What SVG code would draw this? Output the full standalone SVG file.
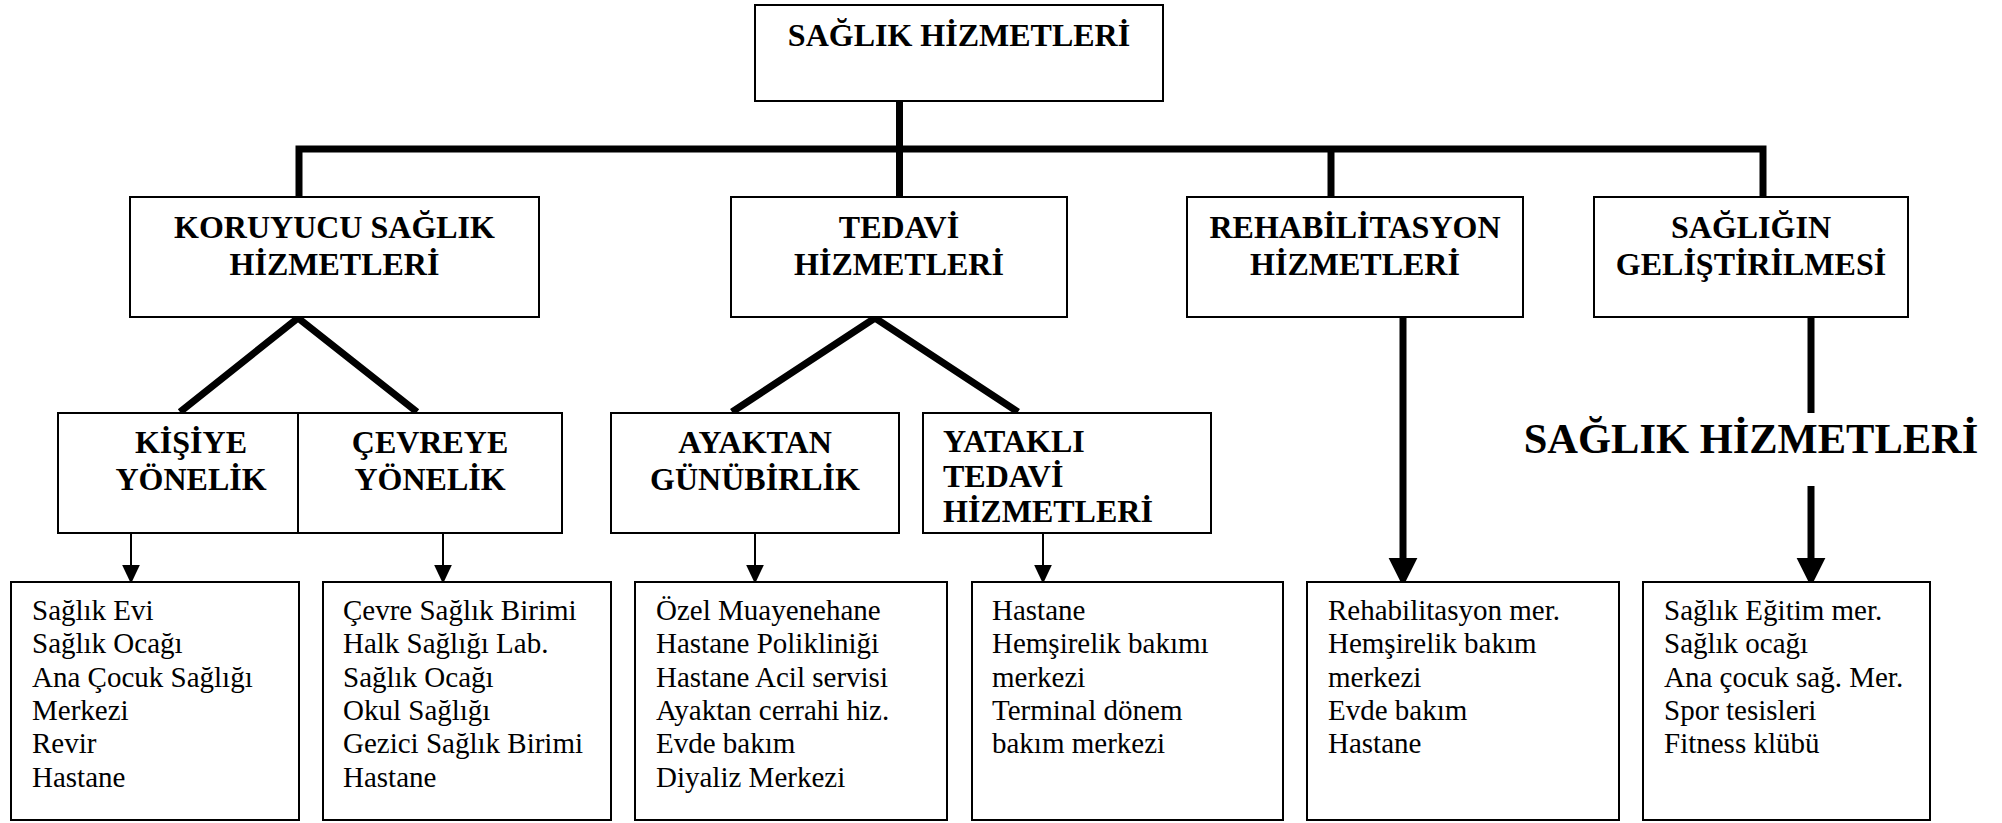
<svg xmlns="http://www.w3.org/2000/svg" width="2002" height="823" viewBox="0 0 2002 823" font-family="'Liberation Serif', 'Times New Roman', Times, 'Noto Serif', 'DejaVu Serif', serif">
  <style>
    .box { fill: #ffffff; stroke: #000000; stroke-width: 2; }
    .head { font-weight: bold; font-size: 32px; fill: #000000; }
    .big { font-weight: bold; font-size: 42.5px; fill: #000000; }
    .list { font-size: 29px; fill: #000000; }
    .thick { fill: none; stroke: #000000; stroke-width: 7; stroke-linejoin: miter; }
    .thin { fill: none; stroke: #000000; stroke-width: 2; }
  </style>
  <defs>
    <marker id="arrowThick" markerUnits="userSpaceOnUse" markerWidth="30" markerHeight="30" refX="0" refY="0" viewBox="0 -12 24 24" orient="auto" overflow="visible">
      <path d="M0,-11.5 L23,0 L0,11.5 Z" fill="#000000"/>
    </marker>
    <marker id="arrowThin" markerUnits="userSpaceOnUse" markerWidth="20" markerHeight="20" refX="0" refY="0" viewBox="0 -8 17 16" orient="auto" overflow="visible">
      <path d="M0,-7.5 L16,0 L0,7.5 Z" fill="#000000"/>
    </marker>
  </defs>

  <!-- connectors -->
  <g id="connectors">
    <!-- root trunk and distribution bar -->
    <path class="thick" d="M899.5,101 V197"/>
    <path class="thick" d="M299,197 V149 H1763 V197"/>
    <path class="thick" d="M1331,149 V197"/>
    <!-- preventive split -->
    <path class="thick" d="M180,412 L298,318 L417,412"/>
    <!-- treatment split -->
    <path class="thick" d="M732,412 L875,318 L1018,412"/>
    <!-- thin arrows to lists -->
    <path class="thin" d="M131,533 V565" marker-end="url(#arrowThin)"/>
    <path class="thin" d="M443,533 V565" marker-end="url(#arrowThin)"/>
    <path class="thin" d="M755,533 V565" marker-end="url(#arrowThin)"/>
    <path class="thin" d="M1043,533 V565" marker-end="url(#arrowThin)"/>
    <!-- rehabilitation arrow -->
    <path class="thick" d="M1403,317 V558" marker-end="url(#arrowThick)"/>
    <!-- health promotion arrow, broken by label -->
    <path class="thick" d="M1811,317 V413"/>
    <path class="thick" d="M1811,486 V558" marker-end="url(#arrowThick)"/>
  </g>

  <!-- root -->
  <g id="root">
    <rect class="box" x="755" y="5" width="408" height="96"/>
    <text class="head" x="959" y="46" text-anchor="middle">SAĞLIK HİZMETLERİ</text>
  </g>

  <!-- second level -->
  <g id="koruyucu">
    <rect class="box" x="130" y="197" width="409" height="120"/>
    <text class="head" x="334.5" y="238" text-anchor="middle">KORUYUCU SAĞLIK</text>
    <text class="head" x="334.5" y="275" text-anchor="middle">HİZMETLERİ</text>
  </g>
  <g id="tedavi">
    <rect class="box" x="731" y="197" width="336" height="120"/>
    <text class="head" x="899" y="238" text-anchor="middle">TEDAVİ</text>
    <text class="head" x="899" y="275" text-anchor="middle">HİZMETLERİ</text>
  </g>
  <g id="rehabilitasyon">
    <rect class="box" x="1187" y="197" width="336" height="120"/>
    <text class="head" x="1355" y="238" text-anchor="middle">REHABİLİTASYON</text>
    <text class="head" x="1355" y="275" text-anchor="middle">HİZMETLERİ</text>
  </g>
  <g id="gelistirme">
    <rect class="box" x="1594" y="197" width="314" height="120"/>
    <text class="head" x="1751" y="238" text-anchor="middle">SAĞLIĞIN</text>
    <text class="head" x="1751" y="275" text-anchor="middle">GELİŞTİRİLMESİ</text>
  </g>

  <!-- third level -->
  <g id="kisiye">
    <rect class="box" x="58" y="413" width="265" height="120"/>
    <text class="head" x="191" y="453" text-anchor="middle">KİŞİYE</text>
    <text class="head" x="191" y="490" text-anchor="middle">YÖNELİK</text>
  </g>
  <g id="cevreye">
    <rect class="box" x="298" y="413" width="264" height="120"/>
    <text class="head" x="430" y="453" text-anchor="middle">ÇEVREYE</text>
    <text class="head" x="430" y="490" text-anchor="middle">YÖNELİK</text>
  </g>
  <g id="ayaktan">
    <rect class="box" x="611" y="413" width="288" height="120"/>
    <text class="head" x="755" y="453" text-anchor="middle">AYAKTAN</text>
    <text class="head" x="755" y="490" text-anchor="middle">GÜNÜBİRLİK</text>
  </g>
  <g id="yatakli">
    <rect class="box" x="923" y="413" width="288" height="120"/>
    <text class="head" x="943" y="452">YATAKLI</text>
    <text class="head" x="943" y="487">TEDAVİ</text>
    <text class="head" x="943" y="522">HİZMETLERİ</text>
  </g>

  <!-- free label -->
  <g id="label">
    <text class="big" x="1751" y="453" text-anchor="middle">SAĞLIK HİZMETLERİ</text>
  </g>

  <!-- lists -->
  <g id="list-kisiye">
    <rect class="box" x="11" y="582" width="288" height="238"/>
    <text class="list" x="32" y="620">
      <tspan x="32" dy="0">Sağlık Evi</tspan>
      <tspan x="32" dy="33.3">Sağlık Ocağı</tspan>
      <tspan x="32" dy="33.3">Ana Çocuk Sağlığı</tspan>
      <tspan x="32" dy="33.3">Merkezi</tspan>
      <tspan x="32" dy="33.3">Revir</tspan>
      <tspan x="32" dy="33.3">Hastane</tspan>
    </text>
  </g>
  <g id="list-cevreye">
    <rect class="box" x="323" y="582" width="288" height="238"/>
    <text class="list" x="343" y="620">
      <tspan x="343" dy="0">Çevre Sağlık Birimi</tspan>
      <tspan x="343" dy="33.3">Halk Sağlığı Lab.</tspan>
      <tspan x="343" dy="33.3">Sağlık Ocağı</tspan>
      <tspan x="343" dy="33.3">Okul Sağlığı</tspan>
      <tspan x="343" dy="33.3">Gezici Sağlık Birimi</tspan>
      <tspan x="343" dy="33.3">Hastane</tspan>
    </text>
  </g>
  <g id="list-ayaktan">
    <rect class="box" x="635" y="582" width="312" height="238"/>
    <text class="list" x="656" y="620">
      <tspan x="656" dy="0">Özel Muayenehane</tspan>
      <tspan x="656" dy="33.3">Hastane Polikliniği</tspan>
      <tspan x="656" dy="33.3">Hastane Acil servisi</tspan>
      <tspan x="656" dy="33.3">Ayaktan cerrahi hiz.</tspan>
      <tspan x="656" dy="33.3">Evde bakım</tspan>
      <tspan x="656" dy="33.3">Diyaliz Merkezi</tspan>
    </text>
  </g>
  <g id="list-yatakli">
    <rect class="box" x="972" y="582" width="311" height="238"/>
    <text class="list" x="992" y="620">
      <tspan x="992" dy="0">Hastane</tspan>
      <tspan x="992" dy="33.3">Hemşirelik bakımı</tspan>
      <tspan x="992" dy="33.3">merkezi</tspan>
      <tspan x="992" dy="33.3">Terminal dönem</tspan>
      <tspan x="992" dy="33.3">bakım merkezi</tspan>
    </text>
  </g>
  <g id="list-rehabilitasyon">
    <rect class="box" x="1307" y="582" width="312" height="238"/>
    <text class="list" x="1328" y="620">
      <tspan x="1328" dy="0">Rehabilitasyon mer.</tspan>
      <tspan x="1328" dy="33.3">Hemşirelik bakım</tspan>
      <tspan x="1328" dy="33.3">merkezi</tspan>
      <tspan x="1328" dy="33.3">Evde bakım</tspan>
      <tspan x="1328" dy="33.3">Hastane</tspan>
    </text>
  </g>
  <g id="list-gelistirme">
    <rect class="box" x="1643" y="582" width="287" height="238"/>
    <text class="list" x="1664" y="620">
      <tspan x="1664" dy="0">Sağlık Eğitim mer.</tspan>
      <tspan x="1664" dy="33.3">Sağlık ocağı</tspan>
      <tspan x="1664" dy="33.3">Ana çocuk sağ. Mer.</tspan>
      <tspan x="1664" dy="33.3">Spor tesisleri</tspan>
      <tspan x="1664" dy="33.3">Fitness klübü</tspan>
    </text>
  </g>
</svg>
